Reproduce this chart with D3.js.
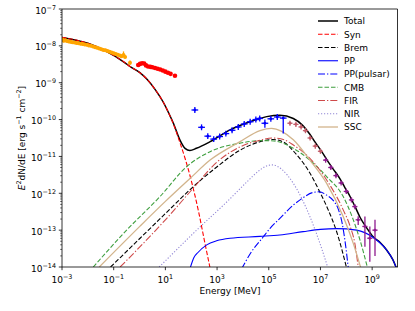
<!DOCTYPE html>
<html>
<head>
<meta charset="utf-8">
<script src="https://cdn.jsdelivr.net/npm/d3@7"></script>
<style>
body{margin:0;background:#fff}
text{font-family:"DejaVu Sans",sans-serif;font-size:9px}
</style>
</head>
<body>
<svg width="415" height="311"></svg>
<script>
// all values as [log10(E/MeV), log10(E^2 dN/dE)]
var total = [[-3,-7.77],[-2,-7.93],[-1.34,-8.13],[-0.56,-8.46],[-0.37,-8.56],[0,-8.72],[0.28,-8.9],[0.6,-9.18],[0.92,-9.53],[1.1,-9.78],[1.31,-10.1],[1.56,-10.55],[1.76,-10.78],[1.95,-10.84],[2.2,-10.78],[2.73,-10.6],[3.5,-10.28],[4.27,-10.06],[4.92,-9.92],[5.43,-9.88],[5.95,-9.97],[6.3,-10.15],[6.59,-10.4],[6.8,-10.62],[7.05,-10.87],[7.3,-11.15],[7.5,-11.35],[7.75,-11.6],[7.95,-11.85],[8.14,-12.08],[8.33,-12.35],[8.53,-12.65],[8.8,-12.95],[9.04,-13.18],[9.3,-13.33],[9.56,-13.54],[9.8,-13.8],[9.95,-14.05]]
var syn = [[-3,-7.77],[-2,-7.93],[-1.34,-8.13],[-0.56,-8.46],[-0.37,-8.56],[0,-8.72],[0.28,-8.9],[0.6,-9.18],[0.92,-9.53],[1.1,-9.78],[1.31,-10.12],[1.56,-10.62],[1.76,-11.05],[2,-11.65],[2.3,-12.55],[2.5,-13.25],[2.75,-14.1]]
var brem = [[-1.12,-14],[0.02,-13.22],[1,-12.55],[2.08,-11.82],[3,-11.28],[3.89,-10.83],[4.66,-10.6],[5.16,-10.54],[5.6,-10.62],[5.95,-10.85],[6.59,-11.45],[7,-12.0],[7.3,-12.45],[7.63,-13.05],[8.02,-14.05]]
var pp = [[1.95,-14.05],[2.1,-13.75],[2.27,-13.6],[2.6,-13.4],[2.98,-13.29],[3.5,-13.22],[4.66,-13.17],[5.43,-13.13],[6.33,-13.04],[7.0,-12.98],[7.63,-12.96],[8.4,-13.0],[9.04,-13.2],[9.56,-13.54],[9.8,-13.8],[9.95,-14.05]]
var ppPulsar = [[3.95,-14.05],[4.3,-13.62],[4.79,-13.18],[5.05,-12.95],[5.43,-12.68],[5.95,-12.32],[6.33,-12.12],[6.7,-11.98],[6.95,-11.96],[7.24,-12.05],[7.5,-12.2],[7.7,-12.45],[7.85,-12.85],[7.97,-13.4],[8.08,-14.05]]
var cmb = [[-1.79,-14],[-0.5,-13.0],[0.79,-12.09],[1.82,-11.28],[2.73,-10.87],[3.89,-10.64],[4.66,-10.57],[5.2,-10.58],[5.95,-10.78],[6.59,-11.1],[7.24,-11.55],[7.88,-12.09],[8.27,-12.72],[8.53,-13.27],[8.83,-14.05]]
var fir = [[-0.75,-14],[0.02,-13.45],[1,-12.72],[2.08,-11.86],[3,-11.15],[3.89,-10.74],[4.66,-10.56],[5.16,-10.5],[5.6,-10.55],[5.95,-10.69],[6.59,-11.05],[7.24,-11.64],[7.88,-12.45],[8.15,-12.9],[8.33,-13.36],[8.47,-14.05]]
var nir = [[0.76,-14],[2.21,-13.0],[3.5,-12.15],[4.14,-11.7],[4.6,-11.4],[4.95,-11.25],[5.15,-11.23],[5.5,-11.35],[5.95,-11.73],[6.59,-12.63],[6.98,-13.36],[7.3,-14.05]]
var ssc = [[-1.56,-14],[0.02,-12.89],[1,-12.22],[1.95,-11.6],[2.73,-11.1],[3.89,-10.6],[4.66,-10.3],[5.1,-10.24],[5.5,-10.32],[5.95,-10.55],[6.59,-11.1],[7.24,-11.73],[7.88,-12.63],[8.27,-13.36],[8.57,-14.05]]

// data points [logE, logF, err down, err up]
var orangePts = [[-2.98,-7.83],[-2.93,-7.86],[-2.87,-7.85],[-2.81,-7.87],[-2.74,-7.88],[-2.67,-7.89],[-2.6,-7.9],[-2.52,-7.91],[-2.44,-7.92],[-2.36,-7.93],[-2.28,-7.94],[-2.2,-7.95],[-2.12,-7.96],[-2.04,-7.97],[-1.96,-7.99],[-1.88,-8.0],[-1.8,-8.02],[-1.72,-8.04],[-1.64,-8.05],[-1.56,-8.07],[-1.48,-8.09],[-1.4,-8.11],[-1.32,-8.12],[-1.24,-8.14],[-1.16,-8.16],[-1.08,-8.18],[-1.0,-8.2],[-0.92,-8.22],[-0.84,-8.24],[-0.76,-8.26],[-0.7,-8.28],[-0.62,-8.25,0.06,0.1],[-0.56,-8.3],[-0.37,-8.46,0.06,0.06]]
var redPts = [[-0.05,-8.52],[0.02,-8.49],[0.1,-8.47],[0.18,-8.48],[0.25,-8.53],[0.33,-8.56],[0.42,-8.57],[0.5,-8.58],[0.6,-8.6],[0.7,-8.62],[0.8,-8.64],[0.9,-8.67],[1.0,-8.7],[1.1,-8.73],[1.2,-8.76],[1.37,-8.81]]
var bluePts = [[2.14,-9.74],[2.40,-10.21],[2.64,-10.45],[2.87,-10.53],[3.10,-10.46],[3.34,-10.38],[3.58,-10.29],[3.82,-10.2],[4.05,-10.12],[4.28,-10.06],[4.50,-10.0],[4.65,-9.97],[4.85,-10.1,0.12,0.1],[5.08,-9.98],[5.33,-9.93],[5.56,-9.96,0.42,0.05]]
var brownPts = [[5.82,-10.1],[6.05,-10.13],[6.25,-10.2],[6.42,-10.3],[6.6,-10.5],[6.8,-10.72],[7.0,-10.86]]
var purplePts = [[7.2,-11.1],[7.4,-11.3],[7.6,-11.52],[7.8,-11.72],[8.0,-11.95],[8.2,-12.18],[8.33,-12.36],[8.46,-12.72,0.14,0.1],[8.72,-12.9,0.55,0.27],[8.91,-13.22,0.64,0.32],[9.11,-13.0,0.7,0.28]]

var xTicks = [-3,-1,1,3,5,7,9]
var yTicks = [-14,-13,-12,-11,-10,-9,-8,-7]

var svg = d3.select('svg')
var p = v => Math.pow(10, v)
var x = d3.scaleLog().domain([1e-3,1e10]).range([62,398])
var y = d3.scaleLog().domain([1e-14,1e-7]).range([267,9])

svg.append('clipPath').attr('id','clip').append('rect')
    .attr('x',62).attr('y',9).attr('width',336).attr('height',258)
var plot = svg.append('g').attr('clip-path','url(#clip)')

var line = d3.line().x(d => x(p(d[0]))).y(d => y(p(d[1]))).curve(d3.curveMonotoneX)

var series = [
    {name:'Total', data:total, color:'black', dash:null, w:1.5},
    {name:'Syn', data:syn, color:'red', dash:'4.5,2', w:1.1},
    {name:'Brem', data:brem, color:'black', dash:'4.5,2', w:1.1},
    {name:'PP', data:pp, color:'blue', dash:null, w:1.1},
    {name:'PP(pulsar)', data:ppPulsar, color:'blue', dash:'7,2,1.3,2', w:1.1},
    {name:'CMB', data:cmb, color:'#3f9f3f', dash:'4.5,2', w:1.1},
    {name:'FIR', data:fir, color:'#cf4a4a', dash:'7,2,1.3,2', w:1.1},
    {name:'NIR', data:nir, color:'#9388d6', dash:'1.2,1.8', w:1.1},
    {name:'SSC', data:ssc, color:'#d2b48c', dash:null, w:1.3}
]

series.forEach(s => {
    plot.append('path').attr('d', line(s.data))
        .attr('fill','none').attr('stroke',s.color).attr('stroke-width',s.w)
        .attr('stroke-dasharray',s.dash)
})

// error bar points
function drawPts(pts, color, r, dx, dy){
    pts.forEach(d => {
        var lo = d[2] !== undefined ? d[2] : dy
        var hi = d[3] !== undefined ? d[3] : dy
        var cx = x(p(d[0])), cy = y(p(d[1]))
        if (lo > 0 || hi > 0)
            plot.append('line').attr('x1',cx).attr('x2',cx)
                .attr('y1',y(p(d[1]-lo))).attr('y2',y(p(d[1]+hi)))
                .attr('stroke',color).attr('stroke-width',1.3)
        if (dx > 0)
            plot.append('line').attr('x1',x(p(d[0]-dx))).attr('x2',x(p(d[0]+dx)))
                .attr('y1',cy).attr('y2',cy)
                .attr('stroke',color).attr('stroke-width',1.3)
        plot.append('circle').attr('cx',cx).attr('cy',cy).attr('r',r).attr('fill',color)
    })
}
drawPts(orangePts, 'orange', 2, 0, 0.04)
drawPts(redPts, 'red', 2.3, 0, 0.02)
drawPts(bluePts, 'blue', 1.4, 0.13, 0.08)
drawPts(brownPts, '#c25b68', 1.4, 0.1, 0.07)
drawPts(purplePts, '#8e1a8e', 1.4, 0.1, 0.07)

// axes
var ax = svg.append('g')
ax.append('path').attr('d','M62,9H397.5V267').attr('fill','none').attr('stroke','#000').attr('stroke-width',0.8)
ax.append('path').attr('d','M62,9V267H398').attr('fill','none').attr('stroke','#000').attr('stroke-width',0.8)

function supLabel(t, exp){
    t.append('tspan').text('10')
    t.append('tspan').attr('dy',-3.9).attr('font-size','6.4px').text(exp < 0 ? '\u2212' + (-exp) : '' + exp)
}

xTicks.forEach(v => {
    var px = x(p(v))
    ax.append('line').attr('x1',px).attr('x2',px).attr('y1',267).attr('y2',270.2)
        .attr('stroke','#000').attr('stroke-width',0.8)
    var t = ax.append('text').attr('x',px).attr('y',282.5).attr('text-anchor','middle')
    supLabel(t, v)
})

yTicks.forEach(v => {
    var py = y(p(v))
    ax.append('line').attr('x1',62).attr('x2',58.8).attr('y1',py).attr('y2',py)
        .attr('stroke','#000').attr('stroke-width',0.8)
    var t = ax.append('text').attr('x',56).attr('y',py+4.5).attr('text-anchor','end')
    supLabel(t, v)
    if (v < -7) {
        for (var k = 2; k < 10; k++) {
            var my = y(k * p(v))
            ax.append('line').attr('x1',62).attr('x2',60.2).attr('y1',my).attr('y2',my)
                .attr('stroke','#000').attr('stroke-width',0.6)
        }
    }
})

svg.append('text').attr('x',230).attr('y',294).attr('text-anchor','middle').text('Energy [MeV]')

var yl = svg.append('text').attr('transform','translate(25,138) rotate(-90)').attr('text-anchor','middle')
yl.append('tspan').attr('font-style','italic').text('E')
yl.append('tspan').attr('dy',-3.9).attr('font-size','6.4px').text('2')
yl.append('tspan').attr('dy',3.9).text('dN/dE [erg s')
yl.append('tspan').attr('dy',-3.9).attr('font-size','6.4px').text('\u22121')
yl.append('tspan').attr('dy',3.9).text(' cm')
yl.append('tspan').attr('dy',-3.9).attr('font-size','6.4px').text('\u22122')
yl.append('tspan').attr('dy',3.9).text(']')

// legend
var lg = svg.append('g')
series.forEach((s, i) => {
    var ly = 21 + i * 13.25
    lg.append('line').attr('x1',318).attr('x2',338).attr('y1',ly).attr('y2',ly)
        .attr('stroke',s.color).attr('stroke-width',s.w).attr('stroke-dasharray',s.dash)
    lg.append('text').attr('x',344).attr('y',ly+3.3).text(s.name)
})
</script>
</body>
</html>
